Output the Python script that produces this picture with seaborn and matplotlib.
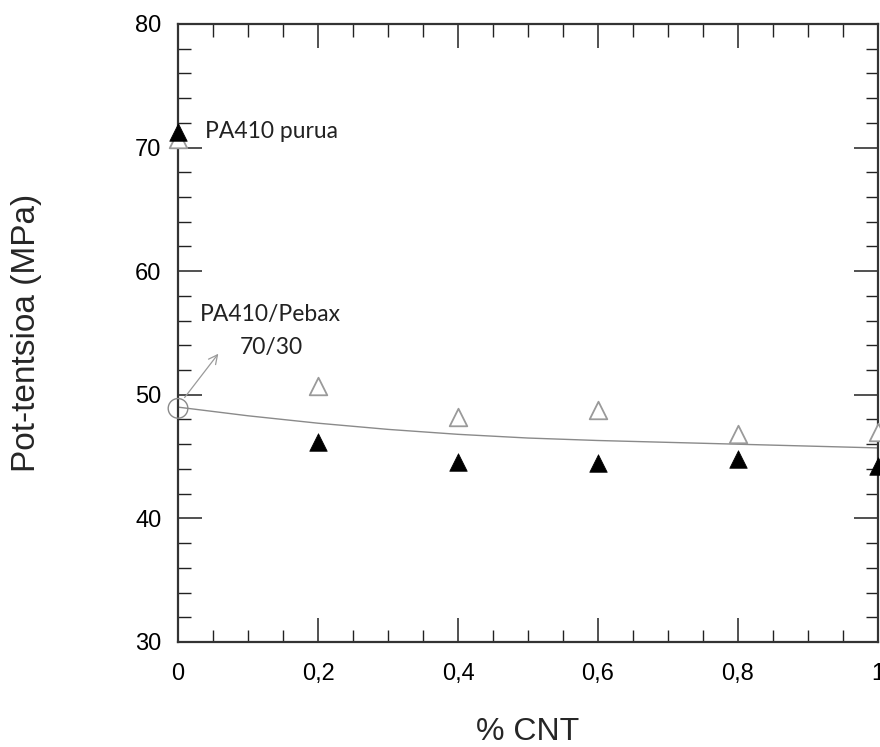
import matplotlib
matplotlib.use("Agg")
import matplotlib.pyplot as plt
import seaborn as sns
import pandas as pd
from matplotlib.ticker import FixedLocator, MultipleLocator

# CNT content (%) and tensile strength (MPa)
cnt = [0.0, 0.2, 0.4, 0.6, 0.8, 1.0]
strength_open = [70.7, 50.7, 48.2, 48.8, 46.8, 47.0]
strength_filled = [71.3, 46.2, 44.6, 44.5, 44.8, 44.2]

# Blend reference point and trend curve
blend_x = [0.0]
blend_y = [48.9]
trend_x = [0.0, 0.1, 0.2, 0.3, 0.4, 0.5, 0.6, 0.7, 0.8, 0.9, 1.0]
trend_y = [49.0, 48.3, 47.7, 47.2, 46.8, 46.5, 46.3, 46.15, 46.0, 45.85, 45.7]

x_ticks = [0.0, 0.2, 0.4, 0.6, 0.8, 1.0]
x_ticklabels = ["0", "0,2", "0,4", "0,6", "0,8", "1"]
y_ticks = [30, 40, 50, 60, 70, 80]

sns.set_style("ticks")
plt.rcParams["font.family"] = ["Liberation Sans", "DejaVu Sans"]

fig = plt.figure(figsize=(8.8, 7.47), dpi=100)
ax = fig.add_axes([0.2023, 0.1406, 0.7954, 0.8273])

trend = pd.DataFrame({"x": trend_x, "y": trend_y})
sns.lineplot(data=trend, x="x", y="y", ax=ax, color="#8a8a8a", linewidth=1.0)

df = pd.DataFrame({"cnt": cnt, "open": strength_open, "filled": strength_filled})
sns.scatterplot(data=df, x="cnt", y="open", ax=ax, marker="^", s=160,
                facecolor="white", edgecolor="#9a9a9a", linewidth=1.3,
                clip_on=False, zorder=3)
sns.scatterplot(data=df, x="cnt", y="filled", ax=ax, marker="^", s=160,
                color="black", edgecolor="black", linewidth=0.5,
                clip_on=False, zorder=4)
sns.scatterplot(x=blend_x, y=blend_y, ax=ax, marker="o", s=200,
                facecolor="none", edgecolor="#8a8a8a", linewidth=1.0,
                clip_on=False, zorder=3)

ax.set_xlim(0, 1)
ax.set_ylim(30, 80)
ax.xaxis.set_major_locator(FixedLocator(x_ticks))
ax.set_xticklabels(x_ticklabels)
ax.xaxis.set_minor_locator(MultipleLocator(0.05))
ax.yaxis.set_major_locator(FixedLocator(y_ticks))
ax.yaxis.set_minor_locator(MultipleLocator(2))

ax.tick_params(which="both", direction="in", top=True, right=True,
               colors="#222222", labelcolor="black")
ax.tick_params(which="major", length=17, width=1.1, labelsize=17)
ax.tick_params(axis="x", which="major", pad=15)
ax.tick_params(axis="y", which="major", pad=12)
ax.tick_params(which="minor", length=9, width=1.0)
for sp in ax.spines.values():
    sp.set_linewidth(1.6)
    sp.set_color("#333333")

ax.set_xlabel("% CNT", fontsize=23)
ax.set_ylabel("Pot-tentsioa (MPa)", fontsize=24)
ax.xaxis.set_label_coords(0.5, -0.122)
ax.yaxis.set_label_coords(-0.194, 0.5)

note_font = ["Lato", "DejaVu Sans"]
ax.text(0.038, 71.3, "PA410 purua", fontsize=16.5, family=note_font,
        va="center", ha="left", color="#222222")
ax.text(0.031, 56.5, "PA410/Pebax", fontsize=16.5, family=note_font,
        va="center", ha="left", color="#222222")
ax.text(0.088, 53.8, "70/30", fontsize=16.5, family=note_font,
        va="center", ha="left", color="#222222")
ax.annotate("", xy=(0.06, 53.5), xytext=(0.007, 49.6),
            arrowprops=dict(arrowstyle="->", color="#9a9a9a", lw=0.9,
                            mutation_scale=16))

fig.savefig("out.png", dpi=100, facecolor="white")
